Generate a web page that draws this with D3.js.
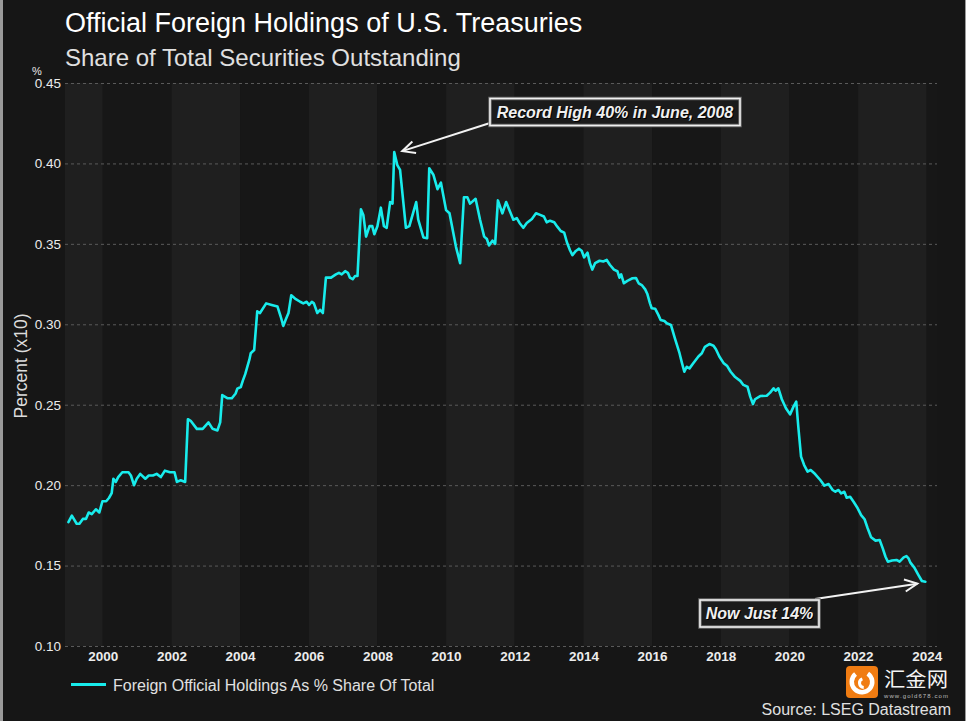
<!DOCTYPE html>
<html>
<head>
<meta charset="utf-8">
<script src="https://cdn.jsdelivr.net/npm/d3@7"></script>
<style>
  html, body { margin: 0; padding: 0; background: #161616; }
  svg { display: block; }
</style>
</head>
<body>
<svg id="chart" width="966" height="721"></svg>
<script>
// ---------------- DATA ----------------
const title = "Official Foreign Holdings of U.S. Treasuries";
const subtitle = "Share of Total Securities Outstanding";
const seriesName = "Foreign Official Holdings As % Share Of Total";
const sourceText = "Source: LSEG Datastream";
const yTicks = [0.10, 0.15, 0.20, 0.25, 0.30, 0.35, 0.40, 0.45];
const xTicks = [2000, 2002, 2004, 2006, 2008, 2010, 2012, 2014, 2016, 2018, 2020, 2022, 2024];

const years = [
 1999.00,1999.10,1999.24,1999.32,1999.42,1999.51,1999.59,1999.68,1999.80,1999.90,
 1999.99,2000.10,2000.18,2000.26,2000.31,2000.38,2000.45,2000.57,2000.75,2000.82,
 2000.91,2000.99,2001.09,2001.24,2001.34,2001.46,2001.57,2001.69,2001.81,2001.96,
 2002.09,2002.16,2002.27,2002.40,2002.48,2002.56,2002.74,2002.91,2003.08,2003.20,
 2003.34,2003.42,2003.48,2003.64,2003.76,2003.87,2003.92,2004.02,2004.08,2004.15,
 2004.27,2004.31,2004.41,2004.50,2004.58,2004.76,2004.92,2005.09,2005.18,2005.26,
 2005.33,2005.41,2005.49,2005.60,2005.75,2005.84,2005.94,2006.01,2006.09,2006.15,
 2006.25,2006.33,2006.41,2006.50,2006.65,2006.79,2006.88,2006.96,2007.06,2007.14,
 2007.20,2007.28,2007.35,2007.42,2007.52,2007.59,2007.67,2007.77,2007.85,2007.91,
 2008.00,2008.10,2008.19,2008.27,2008.37,2008.44,2008.49,2008.58,2008.66,2008.83,
 2008.93,2009.13,2009.19,2009.34,2009.45,2009.51,2009.63,2009.75,2009.85,2010.00,
 2010.10,2010.29,2010.41,2010.52,2010.62,2010.70,2010.86,2010.99,2011.11,2011.19,
 2011.25,2011.35,2011.43,2011.51,2011.64,2011.75,2011.96,2012.06,2012.14,2012.25,
 2012.35,2012.50,2012.62,2012.74,2012.85,2012.93,2013.03,2013.15,2013.24,2013.34,
 2013.44,2013.52,2013.61,2013.68,2013.78,2013.87,2013.95,2014.02,2014.12,2014.19,
 2014.26,2014.34,2014.47,2014.58,2014.68,2014.77,2014.89,2014.99,2015.05,2015.10,
 2015.18,2015.28,2015.43,2015.53,2015.61,2015.70,2015.80,2015.86,2015.94,2015.99,
 2016.09,2016.18,2016.25,2016.36,2016.43,2016.55,2016.67,2016.80,2016.87,2016.94,
 2017.01,2017.09,2017.20,2017.35,2017.45,2017.54,2017.67,2017.79,2017.86,2017.96,
 2018.08,2018.19,2018.29,2018.42,2018.57,2018.66,2018.78,2018.86,2018.94,2019.00,
 2019.15,2019.34,2019.44,2019.54,2019.60,2019.68,2019.78,2019.90,2020.02,2020.12,
 2020.20,2020.26,2020.34,2020.43,2020.53,2020.62,2020.75,2020.90,2021.02,2021.14,
 2021.26,2021.34,2021.43,2021.51,2021.60,2021.67,2021.77,2021.87,2021.99,2022.09,
 2022.19,2022.28,2022.38,2022.51,2022.63,2022.72,2022.80,2022.87,2022.99,2023.12,
 2023.21,2023.33,2023.41,2023.47,2023.52,2023.64,2023.76,2023.86,2023.96
];
// share of total outstanding (percent x10 as plotted)
const values = [
 0.177,0.181,0.176,0.176,0.179,0.179,0.183,0.182,0.185,0.183,
 0.190,0.190,0.192,0.195,0.204,0.202,0.205,0.208,0.208,0.206,
 0.200,0.204,0.207,0.204,0.206,0.206,0.207,0.205,0.209,0.208,
 0.208,0.202,0.203,0.202,0.241,0.240,0.235,0.235,0.239,0.235,
 0.234,0.239,0.256,0.254,0.254,0.257,0.260,0.261,0.265,0.269,
 0.278,0.282,0.284,0.308,0.307,0.313,0.312,0.311,0.305,0.299,
 0.303,0.307,0.318,0.316,0.314,0.313,0.314,0.312,0.314,0.313,
 0.307,0.309,0.307,0.329,0.329,0.331,0.332,0.331,0.333,0.332,
 0.329,0.328,0.330,0.330,0.3715,0.368,0.3545,0.361,0.361,0.356,
 0.361,0.3725,0.361,0.360,0.376,0.375,0.407,0.399,0.396,0.360,
 0.361,0.376,0.365,0.354,0.3535,0.397,0.393,0.384,0.388,0.371,
 0.369,0.348,0.338,0.379,0.379,0.375,0.378,0.365,0.3545,0.353,
 0.349,0.352,0.350,0.377,0.369,0.376,0.365,0.366,0.363,0.360,
 0.363,0.3655,0.369,0.368,0.367,0.3634,0.3644,0.3634,0.3607,0.358,
 0.357,0.351,0.346,0.343,0.3456,0.347,0.3457,0.3416,0.3445,0.338,
 0.334,0.338,0.3395,0.339,0.340,0.337,0.334,0.333,0.329,0.331,
 0.3255,0.327,0.3286,0.3288,0.3255,0.3244,0.3217,0.319,0.313,0.310,
 0.3097,0.306,0.3027,0.302,0.3006,0.2996,0.291,0.282,0.276,0.2705,
 0.2736,0.2726,0.2758,0.280,0.282,0.286,0.2877,0.2867,0.2845,0.280,
 0.276,0.274,0.2705,0.2672,0.2648,0.2623,0.2612,0.255,0.2504,0.2534,
 0.2554,0.2556,0.2575,0.2602,0.2587,0.2602,0.2534,0.2478,0.244,0.2488,
 0.2519,0.2363,0.2177,0.2125,0.2084,0.2094,0.2069,0.2032,0.1997,0.2007,
 0.197,0.1959,0.197,0.1949,0.1959,0.1922,0.1928,0.1897,0.1856,0.1814,
 0.1788,0.1732,0.1676,0.1655,0.1659,0.1607,0.1555,0.1524,0.1531,0.1535,
 0.1524,0.1551,0.1559,0.1545,0.152,0.1487,0.1441,0.1404,0.140
];
const annotationTexts = ["Record High 40% in June, 2008", "Now Just 14%"];

// ---------------- CHART ----------------
const svg = d3.select("#chart");
const W = 966, H = 721;
const m = { left: 65, right: 937, top: 83, bottom: 646 };
const FONT = "Liberation Sans, Arial, sans-serif";

const x = d3.scaleLinear().domain([1998.9, 2024.3]).range([m.left, m.right]);
const y = d3.scaleLinear().domain([0.10, 0.45]).range([m.bottom, m.top]);

// frame
svg.append("rect").attr("x", 0).attr("y", 0).attr("width", W).attr("height", H).attr("fill", "#9a9a9a");
svg.append("rect").attr("x", 3).attr("y", 0).attr("width", W - 4).attr("height", H).attr("fill", "#161616");

// alternating year bands
const bandEdges = [x.domain()[0]].concat(xTicks).concat([x.domain()[1]]);
const bands = svg.append("g");
for (let i = 0; i < bandEdges.length - 1; i++) {
  bands.append("rect")
    .attr("x", x(bandEdges[i]))
    .attr("y", m.top)
    .attr("width", x(bandEdges[i + 1]) - x(bandEdges[i]))
    .attr("height", m.bottom - m.top)
    .attr("fill", i % 2 === 0 ? "#1f1f1f" : "#171717");
}

// gridlines
svg.append("g").selectAll("line").data(yTicks).join("line")
  .attr("x1", m.left).attr("x2", m.right)
  .attr("y1", d => y(d) + 0.5).attr("y2", d => y(d) + 0.5)
  .attr("stroke", "#5a5a5a").attr("stroke-width", 1).attr("stroke-dasharray", "3,3");

// y axis
const yAxis = svg.append("g").attr("transform", `translate(${m.left},0)`)
  .call(d3.axisLeft(y).tickValues(yTicks).tickFormat(d3.format(".2f")).tickSize(0).tickPadding(4));
yAxis.select(".domain").remove();
yAxis.selectAll("text")
  .attr("fill", "#ececec").attr("font-family", FONT)
  .attr("font-size", "13.5px");

// x axis
const xAxis = svg.append("g").attr("transform", `translate(0,${m.bottom})`)
  .call(d3.axisBottom(x).tickValues(xTicks).tickFormat(d3.format("d")).tickSize(0).tickPadding(5));
xAxis.select(".domain").remove();
xAxis.selectAll("text")
  .attr("fill", "#ececec").attr("font-family", FONT)
  .attr("font-size", "13.5px").attr("font-weight", "bold");

// unit label
svg.append("text").attr("x", 37).attr("y", 75).attr("text-anchor", "middle")
  .attr("fill", "#e8e8e8").attr("font-family", FONT)
  .attr("font-size", "11px").text("%");

// y title
svg.append("text").attr("transform", "translate(27,366) rotate(-90)")
  .attr("text-anchor", "middle").attr("fill", "#dcdcdc")
  .attr("font-family", FONT).attr("font-size", "17.5px")
  .text("Percent (x10)");

// titles
svg.append("text").attr("x", 65).attr("y", 32).attr("fill", "#ffffff")
  .attr("font-family", FONT).attr("font-size", "27px").text(title);
svg.append("text").attr("x", 65).attr("y", 66).attr("fill", "#e0e0e0")
  .attr("font-family", FONT).attr("font-size", "24px").text(subtitle);

// series line
const data = years.map((yr, i) => ({ t: yr, v: values[i] }));
const line = d3.line().x(d => x(d.t)).y(d => y(d.v));
svg.append("path").datum(data).attr("d", line)
  .attr("fill", "none").attr("stroke", "#18ecec").attr("stroke-width", 2.6)
  .attr("stroke-linejoin", "round").attr("stroke-linecap", "round");

// annotations
function arrow(x1, y1, x2, y2) {
  const g = svg.append("g");
  g.append("line").attr("x1", x1).attr("y1", y1).attr("x2", x2).attr("y2", y2)
    .attr("stroke", "#f2f2f2").attr("stroke-width", 2);
  const ang = Math.atan2(y1 - y2, x1 - x2);
  const L = 14, spread = 0.45;
  const p1 = [x2 + L * Math.cos(ang + spread), y2 + L * Math.sin(ang + spread)];
  const p2 = [x2 + L * Math.cos(ang - spread), y2 + L * Math.sin(ang - spread)];
  g.append("path").attr("d", `M${p1[0]},${p1[1]}L${x2},${y2}L${p2[0]},${p2[1]}`)
    .attr("fill", "none").attr("stroke", "#f2f2f2").attr("stroke-width", 2)
    .attr("stroke-linejoin", "miter");
}
function labelBox(cx, cy, w, h, txt) {
  const g = svg.append("g");
  g.append("rect").attr("x", cx - w / 2).attr("y", cy - h / 2).attr("width", w).attr("height", h)
    .attr("fill", "#1b1b1b").attr("stroke", "#6a6a6a").attr("stroke-width", 3.5);
  g.append("rect").attr("x", cx - w / 2).attr("y", cy - h / 2).attr("width", w).attr("height", h)
    .attr("fill", "none").attr("stroke", "#f0f0f0").attr("stroke-width", 1.6);
  g.append("text").attr("x", cx + 1).attr("y", cy + 1).attr("text-anchor", "middle")
    .attr("dominant-baseline", "central").attr("fill", "#000")
    .attr("font-family", FONT).attr("font-size", "16px")
    .attr("font-weight", "bold").attr("font-style", "italic").text(txt);
  g.append("text").attr("x", cx).attr("y", cy).attr("text-anchor", "middle")
    .attr("dominant-baseline", "central").attr("fill", "#f0f0f0")
    .attr("font-family", FONT).attr("font-size", "16px")
    .attr("font-weight", "bold").attr("font-style", "italic").text(txt);
}
// peak: June 2008
const peakIdx = values.indexOf(d3.max(values));
arrow(490, 123, x(years[peakIdx]) + 8, y(values[peakIdx]) - 1);
labelBox(615, 112, 250, 27, annotationTexts[0]);
// last point
const lastIdx = values.length - 1;
arrow(815, 599, x(years[lastIdx]) - 8, y(values[lastIdx]) + 2);
labelBox(759.5, 613.5, 119, 27, annotationTexts[1]);

// legend
svg.append("line").attr("x1", 71).attr("x2", 106).attr("y1", 684.5).attr("y2", 684.5)
  .attr("stroke", "#18ecec").attr("stroke-width", 3);
svg.append("text").attr("x", 113).attr("y", 690.5).attr("fill", "#e0e0e0")
  .attr("font-family", FONT).attr("font-size", "16px").text(seriesName);

// watermark logo
const wm = svg.append("g");
wm.append("rect").attr("x", 846).attr("y", 666).attr("width", 32).attr("height", 32).attr("rx", 4)
  .attr("fill", "#f07c12");
wm.append("path")
  .attr("d", d3.arc().innerRadius(8).outerRadius(12.5).startAngle(0.6).endAngle(5.6)())
  .attr("transform", "translate(862,682)").attr("fill", "#ffffff");
wm.append("path")
  .attr("d", d3.arc().innerRadius(3).outerRadius(6).startAngle(3.2).endAngle(5.9)())
  .attr("transform", "translate(864,683)").attr("fill", "#ffffff");
wm.append("text").attr("x", 884).attr("y", 687).attr("fill", "#f4f4f4")
  .attr("font-family", "Noto Sans CJK SC, sans-serif").attr("font-size", "20px")
  .attr("textLength", 64).attr("lengthAdjust", "spacingAndGlyphs").text("汇金网");
wm.append("text").attr("x", 884).attr("y", 698).attr("fill", "#bdbdbd")
  .attr("font-family", FONT).attr("font-size", "6px")
  .attr("textLength", 64).text("www.gold678.com");

// source
svg.append("text").attr("x", 951).attr("y", 715).attr("text-anchor", "end").attr("fill", "#e0e0e0")
  .attr("font-family", FONT).attr("font-size", "16px").text(sourceText);
</script>
</body>
</html>
